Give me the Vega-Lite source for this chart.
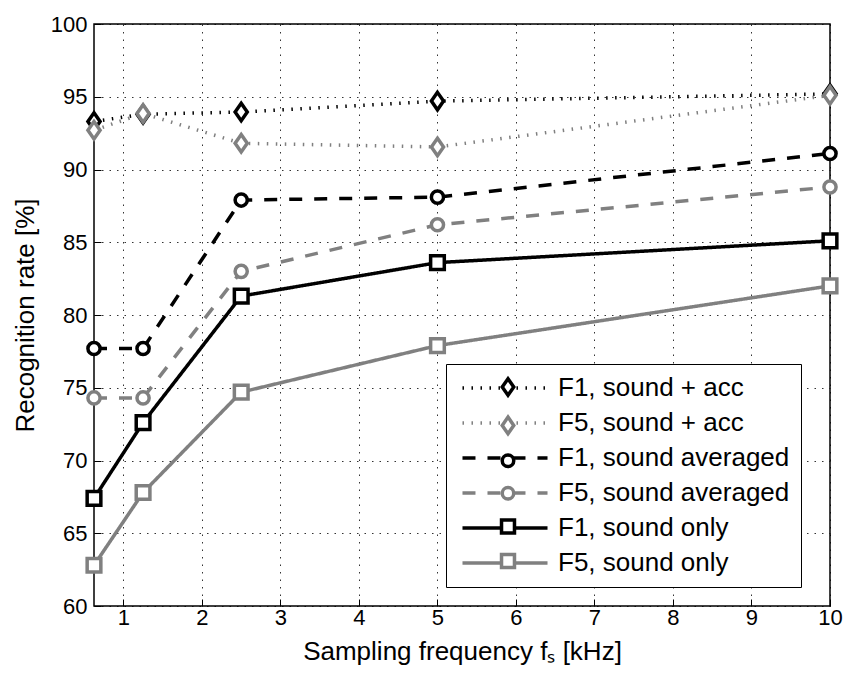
{
  "$schema": "https://vega.github.io/schema/vega-lite/v6.json",
  "width": 736,
  "height": 582,
  "autosize": {"type": "none"},
  "padding": {"left": 94, "top": 24, "right": 16, "bottom": 67},
  "background": "white",
  "config": {
    "view": {"stroke": "black", "strokeWidth": 1.5},
    "font": "Liberation Sans",
    "axis": {
      "labelFont": "Liberation Sans",
      "labelFontSize": 22,
      "labelColor": "black",
      "titleFont": "Liberation Sans",
      "titleFontSize": 26,
      "titleFontWeight": "normal",
      "titleColor": "black",
      "grid": true,
      "gridColor": "black",
      "gridDash": [1.5, 6],
      "gridOpacity": 0.8,
      "gridWidth": 1,
      "domain": false,
      "ticks": true,
      "tickColor": "black",
      "tickSize": -7,
      "tickWidth": 1,
      "labelFlush": false
    }
  },
  "data": {
    "values": [
      {"f": 0.625, "rate": 93.3, "series": "F1, sound + acc"},
      {"f": 1.25, "rate": 93.8, "series": "F1, sound + acc"},
      {"f": 2.5, "rate": 93.95, "series": "F1, sound + acc"},
      {"f": 5, "rate": 94.7, "series": "F1, sound + acc"},
      {"f": 10, "rate": 95.2, "series": "F1, sound + acc"},
      {"f": 0.625, "rate": 92.7, "series": "F5, sound + acc"},
      {"f": 1.25, "rate": 93.85, "series": "F5, sound + acc"},
      {"f": 2.5, "rate": 91.8, "series": "F5, sound + acc"},
      {"f": 5, "rate": 91.55, "series": "F5, sound + acc"},
      {"f": 10, "rate": 95.1, "series": "F5, sound + acc"},
      {"f": 0.625, "rate": 77.7, "series": "F1, sound averaged"},
      {"f": 1.25, "rate": 77.7, "series": "F1, sound averaged"},
      {"f": 2.5, "rate": 87.9, "series": "F1, sound averaged"},
      {"f": 5, "rate": 88.1, "series": "F1, sound averaged"},
      {"f": 10, "rate": 91.1, "series": "F1, sound averaged"},
      {"f": 0.625, "rate": 74.3, "series": "F5, sound averaged"},
      {"f": 1.25, "rate": 74.3, "series": "F5, sound averaged"},
      {"f": 2.5, "rate": 83.0, "series": "F5, sound averaged"},
      {"f": 5, "rate": 86.2, "series": "F5, sound averaged"},
      {"f": 10, "rate": 88.8, "series": "F5, sound averaged"},
      {"f": 0.625, "rate": 67.4, "series": "F1, sound only"},
      {"f": 1.25, "rate": 72.6, "series": "F1, sound only"},
      {"f": 2.5, "rate": 81.3, "series": "F1, sound only"},
      {"f": 5, "rate": 83.6, "series": "F1, sound only"},
      {"f": 10, "rate": 85.1, "series": "F1, sound only"},
      {"f": 0.625, "rate": 62.8, "series": "F5, sound only"},
      {"f": 1.25, "rate": 67.8, "series": "F5, sound only"},
      {"f": 2.5, "rate": 74.7, "series": "F5, sound only"},
      {"f": 5, "rate": 77.9, "series": "F5, sound only"},
      {"f": 10, "rate": 82.0, "series": "F5, sound only"}
    ]
  },
  "encoding": {
    "x": {
      "field": "f",
      "type": "quantitative",
      "scale": {"domain": [0.625, 10], "nice": false, "zero": false},
      "axis": {
        "title": "Sampling frequency fₛ [kHz]",
        "values": [1, 2, 3, 4, 5, 6, 7, 8, 9, 10],
        "labelPadding": 8,
        "titleBaseline": "alphabetic",
        "titleY": 53
      }
    },
    "y": {
      "field": "rate",
      "type": "quantitative",
      "scale": {"domain": [60, 100], "nice": false, "zero": false},
      "axis": {
        "title": "Recognition rate [%]",
        "values": [60, 65, 70, 75, 80, 85, 90, 95, 100],
        "labelPadding": 14,
        "titleBaseline": "alphabetic",
        "titleX": -61
      }
    }
  },
  "layer": [
    {
      "mark": {"type": "line", "strokeWidth": 3.5},
      "encoding": {
        "color": {
          "field": "series",
          "type": "nominal",
          "scale": {
            "domain": ["F1, sound + acc", "F5, sound + acc", "F1, sound averaged", "F5, sound averaged", "F1, sound only", "F5, sound only"],
            "range": ["black", "#808080", "black", "#808080", "black", "#808080"]
          },
          "legend": {
            "orient": "none",
            "legendX": 352,
            "legendY": 340,
            "title": null,
            "padding": 11,
            "rowPadding": 9,
            "symbolType": "M-3.78,0H3.78",
            "symbolSize": 506,
            "symbolStrokeWidth": 3.5,
            "symbolOffset": 35,
            "labelOffset": 40,
            "labelFont": "Liberation Sans",
            "labelFontSize": 26,
            "labelColor": "black",
            "labelLimit": 400,
            "strokeColor": "black",
            "fillColor": "white"
          }
        },
        "strokeDash": {
          "field": "series",
          "type": "nominal",
          "scale": {
            "domain": ["F1, sound + acc", "F5, sound + acc", "F1, sound averaged", "F5, sound averaged", "F1, sound only", "F5, sound only"],
            "range": [[1.5, 7.5], [1.5, 7.5], [13, 12], [13, 12], [1, 0], [1, 0]]
          },
          "legend": {
            "orient": "none",
            "legendX": 352,
            "legendY": 340,
            "title": null,
            "padding": 11,
            "rowPadding": 9,
            "symbolType": "M-3.78,0H3.78",
            "symbolSize": 506,
            "symbolStrokeWidth": 3.5,
            "symbolOffset": 35,
            "labelOffset": 40,
            "labelFont": "Liberation Sans",
            "labelFontSize": 26,
            "labelColor": "black",
            "labelLimit": 400,
            "strokeColor": "black",
            "fillColor": "white"
          }
        },
        "detail": {"field": "series"}
      }
    },
    {
      "mark": {"type": "point", "filled": false, "fill": "white", "size": 361, "strokeWidth": 3.5, "opacity": 1},
      "encoding": {
        "color": {
          "field": "series",
          "type": "nominal",
          "scale": {
            "domain": ["F1, sound + acc", "F5, sound + acc", "F1, sound averaged", "F5, sound averaged", "F1, sound only", "F5, sound only"],
            "range": ["black", "#808080", "black", "#808080", "black", "#808080"]
          },
          "legend": {
            "orient": "none",
            "legendX": 390,
            "legendY": 339,
            "title": null,
            "padding": 11,
            "rowPadding": 6.4,
            "symbolSize": 324,
            "symbolStrokeWidth": 3.5,
            "symbolFillColor": "white",
            "labelFont": "Liberation Sans",
            "labelFontSize": 26,
            "labelExpr": "' '",
            "labelOpacity": 0,
            "labelLimit": 400
          }
        },
        "shape": {
          "field": "series",
          "type": "nominal",
          "scale": {
            "domain": ["F1, sound + acc", "F5, sound + acc", "F1, sound averaged", "F5, sound averaged", "F1, sound only", "F5, sound only"],
            "range": [
              "M0,-0.92L0.64,0L0,0.92L-0.64,0Z",
              "M0,-0.92L0.64,0L0,0.92L-0.64,0Z",
              "M0.64,0 A0.64,0.64 0 1,1 -0.64,0 A0.64,0.64 0 1,1 0.64,0 Z",
              "M0.64,0 A0.64,0.64 0 1,1 -0.64,0 A0.64,0.64 0 1,1 0.64,0 Z",
              "M-0.72,-0.72H0.72V0.72H-0.72Z",
              "M-0.72,-0.72H0.72V0.72H-0.72Z"
            ]
          },
          "legend": {
            "orient": "none",
            "legendX": 390,
            "legendY": 339,
            "title": null,
            "padding": 11,
            "rowPadding": 6.4,
            "symbolSize": 324,
            "symbolStrokeWidth": 3.5,
            "symbolFillColor": "white",
            "labelFont": "Liberation Sans",
            "labelFontSize": 26,
            "labelExpr": "' '",
            "labelOpacity": 0,
            "labelLimit": 400
          }
        }
      }
    }
  ],
  "resolve": {
    "scale": {"color": "independent", "shape": "independent", "strokeDash": "independent"},
    "legend": {"color": "independent", "shape": "independent", "strokeDash": "independent"}
  }
}
